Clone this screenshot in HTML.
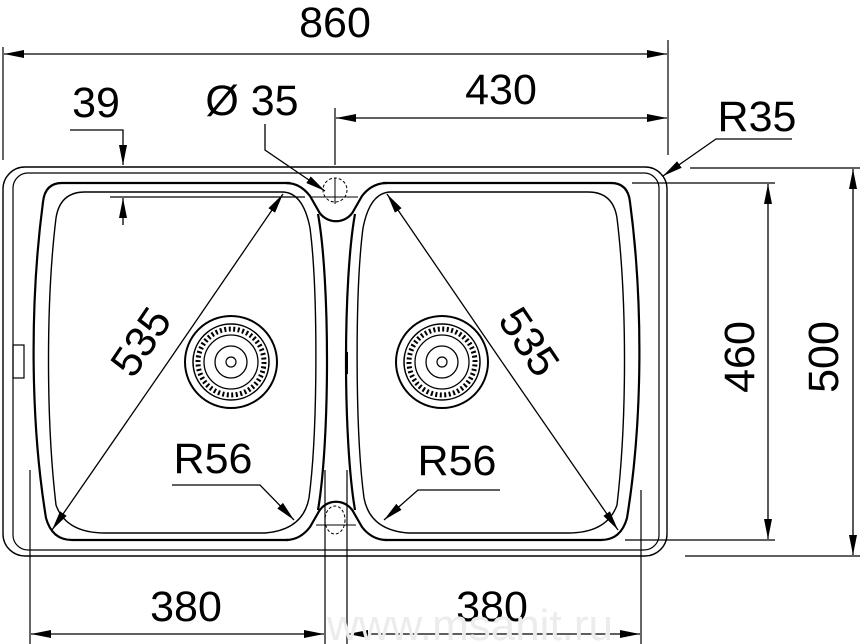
<!DOCTYPE html>
<html><head><meta charset="utf-8"><style>
html,body{margin:0;padding:0;background:#fff;}
svg{display:block;}
text{font-family:"Liberation Sans",sans-serif;fill:#000;}
</style></head><body>
<svg width="860" height="644" viewBox="0 0 860 644" xmlns="http://www.w3.org/2000/svg">
<defs>
<marker id="a" viewBox="0 0 20 8" refX="20" refY="4" markerWidth="20" markerHeight="8" markerUnits="userSpaceOnUse" orient="auto">
<path d="M0,0 L20,4 L0,8 Z" fill="#000"/>
</marker>
<g id="bowl" fill="none" stroke="#000">
<path d="M290 183 L62 183 Q45 183 43 202 C30 300 30 420 46 518 Q52 540 72 540 L288 540" stroke-width="2.2"/>
<path d="M318 214 C330 280 330 440 318 510" stroke-width="2.2"/>
<path d="M282 192 L85 192 Q60 192 56 218 C46 300 46 420 56 505 Q66 533 105 533 L265 533 Q303 530 309 498 C318 430 318 290 310 228 Q303 192 282 192 Z" stroke-width="1.4"/>
<g transform="translate(231,362)">
<circle r="46" stroke-width="2"/>
<circle r="38" stroke-width="1.5"/>
<circle r="33" stroke-width="5" stroke-dasharray="2 2.5"/>
<circle r="27" stroke-width="1.3"/>
<circle r="16" stroke-width="1.3"/>
<circle r="5" stroke-width="1.2"/>
</g>
</g>
</defs>

<!-- frame -->
<rect x="3" y="167" width="664" height="389" rx="22" fill="none" stroke="#000" stroke-width="1.4"/>
<rect x="13" y="173" width="646" height="377" rx="15" fill="none" stroke="#000" stroke-width="1.2"/>
<rect x="13" y="345" width="11" height="33" fill="none" stroke="#000" stroke-width="1.2"/>
<rect x="345" y="352" width="3" height="22" fill="#000"/>

<use href="#bowl"/>
<use href="#bowl" transform="translate(673,0) scale(-1,1)"/>

<!-- notches -->
<path d="M286 183 Q300 183 310 196 L318 210 A 20 20 0 0 0 354 210 L362 196 Q372 183 387 183" fill="none" stroke="#000" stroke-width="2.2"/>
<path d="M286 540 Q300 540 310 527 L318 513 A 20 20 0 0 1 354 513 L362 527 Q372 540 387 540" fill="none" stroke="#000" stroke-width="2.2"/>

<!-- holes -->
<g fill="none" stroke="#000" stroke-width="1">
<circle cx="335" cy="190" r="12" stroke-dasharray="3 2"/>
<line x1="310" y1="197" x2="358" y2="197"/>
<line x1="335" y1="178" x2="335" y2="204"/>
<ellipse cx="335" cy="520" rx="10" ry="14" stroke-dasharray="3 2"/>
<line x1="316" y1="525" x2="356" y2="525"/>
</g>

<!-- extension lines -->
<g stroke="#000" stroke-width="1.2" fill="none">
<line x1="3" y1="47" x2="3" y2="160"/>
<line x1="668" y1="40" x2="668" y2="155"/>
<line x1="335" y1="108" x2="335" y2="165"/>
<line x1="110" y1="197" x2="305" y2="197"/>
<line x1="690" y1="168" x2="860" y2="168"/>
<line x1="632" y1="183" x2="775" y2="183"/>
<line x1="625" y1="540" x2="775" y2="540"/>
<line x1="685" y1="556" x2="860" y2="556"/>
<line x1="30" y1="470" x2="30" y2="644"/>
<line x1="325" y1="470" x2="325" y2="644"/>
<line x1="347" y1="470" x2="347" y2="644"/>
<line x1="641" y1="490" x2="641" y2="644"/>
</g>

<!-- dimension lines -->
<g stroke="#000" stroke-width="1.3" fill="none">
<line x1="335" y1="54" x2="4" y2="54" marker-end="url(#a)"/>
<line x1="335" y1="54" x2="667" y2="54" marker-end="url(#a)"/>
<line x1="500" y1="118" x2="336" y2="118" marker-end="url(#a)"/>
<line x1="500" y1="118" x2="667" y2="118" marker-end="url(#a)"/>
<polyline points="70,130 123,130 123,165" marker-end="url(#a)"/>
<line x1="123" y1="225" x2="123" y2="198" marker-end="url(#a)"/>
<polyline points="265,124 265,150 325,191" marker-end="url(#a)"/>
<polyline points="792,139 716,139 663,176" marker-end="url(#a)"/>
<line x1="768" y1="360" x2="768" y2="184" marker-end="url(#a)"/>
<line x1="768" y1="360" x2="768" y2="539" marker-end="url(#a)"/>
<line x1="853" y1="360" x2="853" y2="169" marker-end="url(#a)"/>
<line x1="853" y1="360" x2="853" y2="555" marker-end="url(#a)"/>
<line x1="178" y1="634" x2="31" y2="634" marker-end="url(#a)"/>
<line x1="178" y1="634" x2="324" y2="634" marker-end="url(#a)"/>
<line x1="494" y1="634" x2="348" y2="634" marker-end="url(#a)"/>
<line x1="494" y1="634" x2="640" y2="634" marker-end="url(#a)"/>
<line x1="168" y1="362" x2="283" y2="194" marker-end="url(#a)"/>
<line x1="168" y1="362" x2="52" y2="530" marker-end="url(#a)"/>
<line x1="502" y1="362" x2="387" y2="194" marker-end="url(#a)"/>
<line x1="502" y1="362" x2="618" y2="530" marker-end="url(#a)"/>
<polyline points="172,485 260,485 294,520" marker-end="url(#a)"/>
<polyline points="500,490 418,490 384,520" marker-end="url(#a)"/>
</g>

<!-- labels -->
<g font-size="43">
<text x="335" y="37" text-anchor="middle">860</text>
<text x="501" y="104" text-anchor="middle">430</text>
<text x="96" y="117" text-anchor="middle">39</text>
<text x="252" y="115" text-anchor="middle">Ø 35</text>
<text x="757" y="131" text-anchor="middle">R35</text>
<text x="213" y="473" text-anchor="middle">R56</text>
<text x="457" y="475" text-anchor="middle">R56</text>
<text x="186" y="621" text-anchor="middle">380</text>
<text x="492" y="621" text-anchor="middle">380</text>
<text transform="translate(754,357) rotate(-90)" text-anchor="middle">460</text>
<text transform="translate(838,357) rotate(-90)" text-anchor="middle">500</text>
<text transform="translate(153,350) rotate(-56)" text-anchor="middle">535</text>
<text transform="translate(517,350) rotate(56)" text-anchor="middle">535</text>
</g>
<text x="470" y="640" font-size="44" text-anchor="middle" style="fill:#ececec">www.msanit.ru</text>
</svg>
</body></html>
